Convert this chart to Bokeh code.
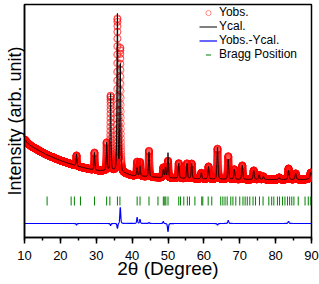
import numpy as np
from bokeh.plotting import figure
from bokeh.models import (ColumnDataSource, SingleIntervalTicker, FixedTicker, Legend,
                          LegendItem)
from bokeh.embed import file_html
from bokeh.resources import INLINE

# ---- data (intensity in arbitrary units) ----
bg_2theta = [10, 11, 12, 14, 16, 18, 20, 22, 25, 28, 30, 33, 35, 38, 40, 45, 50, 55, 60, 70, 80, 88, 90]
bg_int = [98, 94, 91, 87, 83, 80, 77, 74.5, 71, 68.5, 67, 66.5, 66, 64, 62, 60.5, 59.5, 59, 58.5, 58, 58, 58, 59]

peak_2theta = [24.5, 29.5, 32.9, 34.0, 35.9, 36.7, 41.4, 42.2, 44.7, 48.7, 49.3, 50.0,
               53.0, 55.3, 56.6, 59.3, 61.3, 63.8, 66.8, 68.5, 70.7, 73.9, 75.4, 76.6,
               81.0, 83.6, 85.6, 89.8]
peak_obs = [10.5, 17.5, 28, 75, 152, 123, 14, 14, 26, 10, 10, 17,
            15, 15, 15, 6, 12.5, 30.5, 23, 10, 14, 9, 4.5, 3,
            2, 11, 6, 6]
peak_cal = [12, 17.5, 28, 77, 157, 107, 8, 10, 25, 8, 10, 25,
            15, 15, 15, 6, 12.5, 32, 20, 10, 14, 9, 4.5, 3,
            2, 9, 6, 6]

bragg_2theta = [16.3, 23.0, 23.9, 25.6, 29.5, 32.9, 33.8, 35.9, 36.6, 41.4, 42.2, 44.7,
                47.2, 48.7, 49.1, 49.4, 50.0, 53.0, 53.5, 54.4, 55.4, 56.0, 57.5, 59.4,
                59.7, 61.2, 62.2, 64.7, 65.3, 65.9, 66.5, 67.5, 68.1, 68.9, 70.0, 70.9,
                71.5, 72.1, 72.8, 73.7, 74.4, 75.5, 76.5, 78.1, 78.9, 79.5, 80.5, 81.1,
                81.9, 82.6, 83.3, 83.9, 84.5, 85.1, 86.3, 88.2, 89.1, 89.8]

x_label = "2θ (Degree)"
y_label = "Intensity (arb. unit)"

# ---- profile built from the listed peaks ----
tt = np.arange(10.0, 90.0001, 0.0125)
bg = np.interp(tt, bg_2theta, bg_int)


def pv(x, c, h, fwhm, eta=0.4):
    g = np.exp(-4 * np.log(2) * ((x - c) / fwhm) ** 2)
    lo = 1.0 / (1 + 4 * ((x - c) / fwhm) ** 2)
    return h * ((1 - eta) * g + eta * lo)


yobs = bg.copy()
ycal = bg.copy()
for c, ho, hc in zip(peak_2theta, peak_obs, peak_cal):
    w = 0.24 + 0.002 * (c - 10)
    yobs += pv(tt, c, ho, w)
    ycal += pv(tt, c, hc, w)
ydiff = yobs - ycal + 14

src = ColumnDataSource(dict(tt=tt, yobs=yobs, ycal=ycal, ydiff=ydiff))
bsrc = ColumnDataSource(dict(tt=bragg_2theta, y=[36.5] * len(bragg_2theta)))

FONT = "Liberation Sans"

p = figure(width=319, height=284, x_range=(10, 90), y_range=(0, 233),
           output_backend="svg", toolbar_location=None,
           min_border_left=24, min_border_right=8, min_border_top=4, min_border_bottom=47)

r_obs = p.scatter("tt", "yobs", source=src, marker="circle", size=7,
                  fill_color=None, line_color="#ff0000", line_alpha=0.5, line_width=0.9)
r_cal = p.line("tt", "ycal", source=src, line_color="black", line_width=1)
r_diff = p.line("tt", "ydiff", source=src, line_color="#0000ff", line_width=1.2)
r_bragg = p.scatter("tt", "y", source=bsrc, marker="dash", angle=np.pi / 2, size=9,
                    line_color="#008000", line_width=1)

p.xgrid.visible = False
p.ygrid.visible = False
p.outline_line_color = "black"
p.outline_line_width = 1.5

xa = p.xaxis[0]
xa.ticker = SingleIntervalTicker(interval=10, num_minor_ticks=2)
xa.major_tick_out = 6
xa.major_tick_in = 0
xa.minor_tick_out = 3
xa.minor_tick_in = 0
xa.axis_line_width = 1.5
xa.major_tick_line_width = 1.5
xa.minor_tick_line_width = 1.5
xa.major_label_text_font = FONT
xa.major_label_text_font_size = "13px"
xa.major_label_text_color = "black"
xa.major_label_standoff = 7
xa.axis_label = x_label
xa.axis_label_text_font = FONT
xa.axis_label_text_font_size = "19px"
xa.axis_label_text_font_style = "normal"
xa.axis_label_text_color = "black"
xa.axis_label_standoff = -5

ya = p.yaxis[0]
ya.ticker = FixedTicker(ticks=[])
ya.axis_line_width = 1.5
ya.major_tick_out = 0
ya.major_tick_in = 0
ya.minor_tick_out = 0
ya.minor_tick_in = 0
ya.major_label_standoff = 0
ya.axis_label = y_label
ya.axis_label_text_font = FONT
ya.axis_label_text_font_size = "18px"
ya.axis_label_text_font_style = "normal"
ya.axis_label_text_color = "black"
ya.axis_label_standoff = 0

legend = Legend(items=[
    LegendItem(label="Yobs.", renderers=[r_obs]),
    LegendItem(label="Ycal.", renderers=[r_cal]),
    LegendItem(label="Yobs.-Ycal.", renderers=[r_diff]),
    LegendItem(label="Bragg Position", renderers=[r_bragg]),
], location=(175, 176))
legend.label_text_font = FONT
legend.label_text_font_size = "12px"
legend.label_text_color = "black"
legend.background_fill_alpha = 0
legend.border_line_color = None
legend.padding = 0
legend.margin = 0
legend.spacing = 0
legend.label_height = 13
legend.glyph_height = 13
legend.glyph_width = 18
legend.label_standoff = 2
p.add_layout(legend)

open("out.html", "w").write(file_html(p, INLINE))
